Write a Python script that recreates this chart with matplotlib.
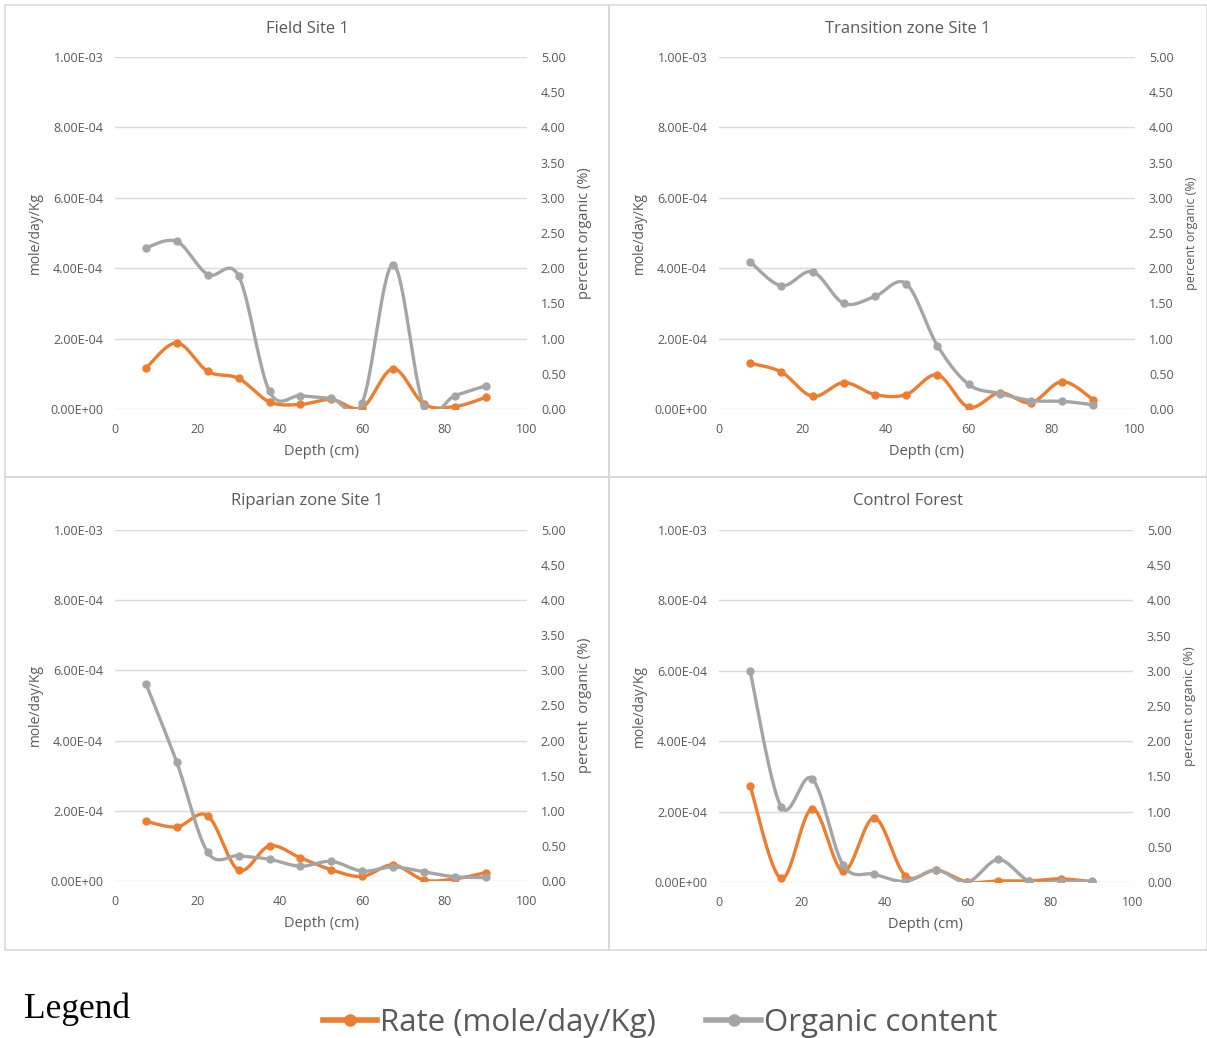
import matplotlib
matplotlib.use("Agg")
from matplotlib import pyplot as plt
from matplotlib.patches import Rectangle
from matplotlib.lines import Line2D
import numpy as np

plt.rcParams['font.family'] = ['Open Sans', 'DejaVu Sans']

depth = [7.5, 15, 22.5, 30, 37.5, 45, 52.5, 60, 67.5, 75, 82.5, 90]

titles = ["Field Site 1", "Transition zone Site 1", "Riparian zone Site 1", "Control Forest"]

rate_field = [1.16e-4, 1.88e-4, 1.07e-4, 0.87e-4, 0.20e-4, 0.13e-4, 0.27e-4, 0.04e-4, 1.14e-4, 0.14e-4, 0.07e-4, 0.33e-4]
org_field = [2.29, 2.38, 1.91, 1.89, 0.25, 0.19, 0.15, 0.09, 2.05, 0.04, 0.19, 0.33]

rate_trans = [1.30e-4, 1.05e-4, 0.36e-4, 0.75e-4, 0.41e-4, 0.41e-4, 0.97e-4, 0.05e-4, 0.46e-4, 0.18e-4, 0.78e-4, 0.26e-4]
org_trans = [2.09, 1.75, 1.95, 1.50, 1.60, 1.78, 0.90, 0.35, 0.22, 0.12, 0.11, 0.06]

rate_rip = [1.70e-4, 1.54e-4, 1.86e-4, 0.31e-4, 1.00e-4, 0.66e-4, 0.32e-4, 0.13e-4, 0.46e-4, 0.03e-4, 0.06e-4, 0.24e-4]
org_rip = [2.81, 1.69, 0.41, 0.36, 0.31, 0.21, 0.28, 0.14, 0.20, 0.13, 0.06, 0.05]

rate_forest = [2.74e-4, 0.10e-4, 2.08e-4, 0.30e-4, 1.82e-4, 0.18e-4, 0.34e-4, 0.0, 0.03e-4, 0.03e-4, 0.09e-4, 0.01e-4]
org_forest = [3.00, 1.07, 1.47, 0.24, 0.11, 0.01, 0.17, 0.0, 0.32, 0.01, 0.01, 0.01]

rates = [rate_field, rate_trans, rate_rip, rate_forest]
orgs = [org_field, org_trans, org_rip, org_forest]

left_ticks = [0, 2e-4, 4e-4, 6e-4, 8e-4, 1e-3]
right_ticks = [0, 0.5, 1.0, 1.5, 2.0, 2.5, 3.0, 3.5, 4.0, 4.5, 5.0]
x_ticks = [0, 20, 40, 60, 80, 100]

ORANGE = "#ed7d31"
GREY = "#a5a5a5"
TXT = "#595959"


def smooth(x, y, n=30):
    # excel-like smoothed line (catmull-rom between the points)
    x = np.asarray(x, float)
    y = np.asarray(y, float)
    px = np.concatenate([[x[0]], x, [x[-1]]])
    py = np.concatenate([[y[0]], y, [y[-1]]])
    xs, ys = [], []
    t = np.linspace(0, 1, n)
    for i in range(1, len(px) - 2):
        p0, p1, p2, p3 = (px[i-1], py[i-1]), (px[i], py[i]), (px[i+1], py[i+1]), (px[i+2], py[i+2])
        c1 = (p1[0] + (p2[0] - p0[0]) / 6, p1[1] + (p2[1] - p0[1]) / 6)
        c2 = (p2[0] - (p3[0] - p1[0]) / 6, p2[1] - (p3[1] - p1[1]) / 6)
        bx = (1-t)**3*p1[0] + 3*(1-t)**2*t*c1[0] + 3*(1-t)*t**2*c2[0] + t**3*p2[0]
        by = (1-t)**3*p1[1] + 3*(1-t)**2*t*c1[1] + 3*(1-t)*t**2*c2[1] + t**3*p2[1]
        xs.extend(bx)
        ys.extend(by)
    return np.array(xs), np.array(ys)


W, H = 1207, 1038
fig = plt.figure(figsize=(W/100, H/100), dpi=100)

# panel frames (pixels: left, top, right, bottom)
frames = [(5, 5, 609, 477), (609, 5, 1207, 477), (5, 477, 609, 950), (609, 477, 1207, 950)]
plots = [(115, 57, 527, 409), (719, 57, 1135, 409), (115, 530, 527, 881), (719, 530, 1133, 882)]
rlab_size = [10.5, 9, 10.5, 9.5]
rlab_text = ["percent organic (%)", "percent organic (%)", "percent  organic (%)", "percent organic (%)"]

for fr in frames:
    l, t, r, b = fr
    fig.patches.append(Rectangle((l/W, 1 - b/H), (r-l)/W, (b-t)/H, transform=fig.transFigure,
                                 fill=False, edgecolor="#d9d9d9", linewidth=1.2))

for k in range(4):
    l, t, r, b = plots[k]
    ax = fig.add_axes([l/W, 1 - b/H, (r-l)/W, (b-t)/H])
    ax2 = ax.twinx()

    ax.set_xlim(0, 100)
    ax.set_ylim(0, 1e-3)
    ax2.set_ylim(0, 5)

    sx, sy = smooth(depth, rates[k])
    ax.plot(sx, sy, color=ORANGE, linewidth=2.4, zorder=3, solid_capstyle='round')
    ax.plot(depth, rates[k], 'o', color=ORANGE, markersize=5, zorder=3)
    gx, gy = smooth(depth, orgs[k])
    ax2.plot(gx, gy, color=GREY, linewidth=2.4, zorder=3, solid_capstyle='round')
    ax2.plot(depth, orgs[k], 'o', color=GREY, markersize=5, zorder=3)

    ax.set_yticks(left_ticks)
    ax.set_yticklabels([f"{v:.2E}" for v in left_ticks])
    ax2.set_yticks(right_ticks)
    ax2.set_yticklabels([f"{v:.2f}" for v in right_ticks])
    ax.set_xticks(x_ticks)
    ax.grid(axis='y', color="#d9d9d9", linewidth=1)
    ax.set_axisbelow(True)

    for a in (ax, ax2):
        for s in a.spines.values():
            s.set_visible(False)
        a.tick_params(length=0, colors=TXT, labelsize=9)
    ax.tick_params(axis='y', pad=8.5)
    ax2.tick_params(axis='y', pad=10)
    ax.tick_params(axis='x', pad=10)

    ax.set_xlabel("Depth (cm)", color=TXT, fontsize=10.5, labelpad=6)
    ax.set_ylabel("mole/day/Kg", color=TXT, fontsize=10, labelpad=5)
    ax2.set_ylabel(rlab_text[k], color=TXT, fontsize=rlab_size[k], labelpad=8)

    fl, ft, fr_, fb = frames[k]
    fig.text((fl + fr_) / 2 / W, 1 - (ft + 24)/H, titles[k], ha='center', va='center',
             color=TXT, fontsize=12)

# bottom legend
fig.text(24/W, 1 - 1009/H, "Legend", family=['Liberation Serif', 'DejaVu Serif'],
         fontsize=25.5, va='center', ha='left', color='black')
handles = [Line2D([], [], color=ORANGE, linewidth=4, marker='o', markersize=8),
           Line2D([], [], color=GREY, linewidth=4, marker='o', markersize=8)]
fig.legend(handles, ["Rate (mole/day/Kg)", "Organic content"], loc='center',
           bbox_to_anchor=(660/W, 1 - 1023/H), ncol=2, frameon=False, fontsize=22.5,
           handlelength=1.75, handletextpad=0.1, columnspacing=1.6, labelcolor=TXT)

fig.savefig("out.png", dpi=100)
